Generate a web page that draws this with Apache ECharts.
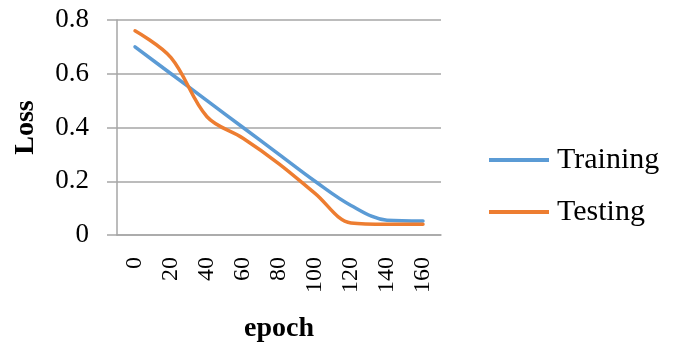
<!DOCTYPE html>
<html>
<head>
<meta charset="utf-8">
<script src="https://cdn.jsdelivr.net/npm/echarts@6/dist/echarts.min.js"></script>
<style>
  html, body { margin: 0; padding: 0; background: #fff; }
  #chart { width: 675px; height: 344px; }
</style>
</head>
<body>
<div id="chart"></div>
<script>
// Loss curves over training epochs
const epochs = ['0', '20', '40', '60', '80', '100', '120', '140', '160'];
const trainingLoss = [0.70, 0.60, 0.50, 0.40, 0.30, 0.20, 0.11, 0.055, 0.052];
const testingLoss  = [0.76, 0.66, 0.44, 0.36, 0.265, 0.155, 0.045, 0.04, 0.04];
const yTicks = { min: 0, max: 0.8, step: 0.2 };

const serif = 'Liberation Serif, Times New Roman, serif';
const gray = '#a6a6a6';

const chart = echarts.init(document.getElementById('chart'), null, { renderer: 'canvas' });
chart.setOption({
  animation: false,
  backgroundColor: '#fff',
  grid: { left: 117, right: 234, top: 20, bottom: 109, containLabel: false, outerBoundsMode: 'none' },
  legend: {
    orient: 'vertical',
    left: 484,
    top: 140,
    itemWidth: 60,
    itemHeight: 4,
    itemGap: 22,
    icon: 'rect',
    textStyle: { fontFamily: serif, fontSize: 30, color: '#000', padding: [0, 0, 0, 3], lineHeight: 30 },
    data: ['Training', 'Testing']
  },
  xAxis: {
    type: 'category',
    data: epochs,
    boundaryGap: true,
    name: 'epoch',
    nameLocation: 'middle',
    nameGap: 80,
    nameTextStyle: { fontFamily: serif, fontSize: 28, fontWeight: 'bold', color: '#000' },
    axisLine: { lineStyle: { color: gray, width: 1.5 } },
    axisTick: { show: false },
    axisLabel: { rotate: 90, margin: 22, fontFamily: serif, fontSize: 24, color: '#000' },
    splitLine: { show: false }
  },
  yAxis: {
    type: 'value',
    min: yTicks.min,
    max: yTicks.max,
    interval: yTicks.step,
    name: 'Loss',
    nameLocation: 'middle',
    nameGap: 77,
    nameRotate: 90,
    nameTextStyle: { fontFamily: serif, fontSize: 28, fontWeight: 'bold', color: '#000' },
    axisLine: { show: true, lineStyle: { color: gray, width: 1.5 } },
    axisTick: { show: true, length: 10, lineStyle: { color: gray, width: 1.5 } },
    axisLabel: { margin: 28, fontFamily: serif, fontSize: 27, color: '#000' },
    splitLine: { show: true, lineStyle: { color: gray, width: 1.5 } }
  },
  series: [
    {
      name: 'Training',
      type: 'line',
      data: trainingLoss,
      smooth: 0.35,
      symbol: 'none',
      lineStyle: { color: '#5B9BD5', width: 3.5, cap: 'round' },
      itemStyle: { color: '#5B9BD5' }
    },
    {
      name: 'Testing',
      type: 'line',
      data: testingLoss,
      smooth: 0.35,
      symbol: 'none',
      lineStyle: { color: '#ED7D31', width: 3.5, cap: 'round' },
      itemStyle: { color: '#ED7D31' }
    }
  ]
});
</script>
</body>
</html>
